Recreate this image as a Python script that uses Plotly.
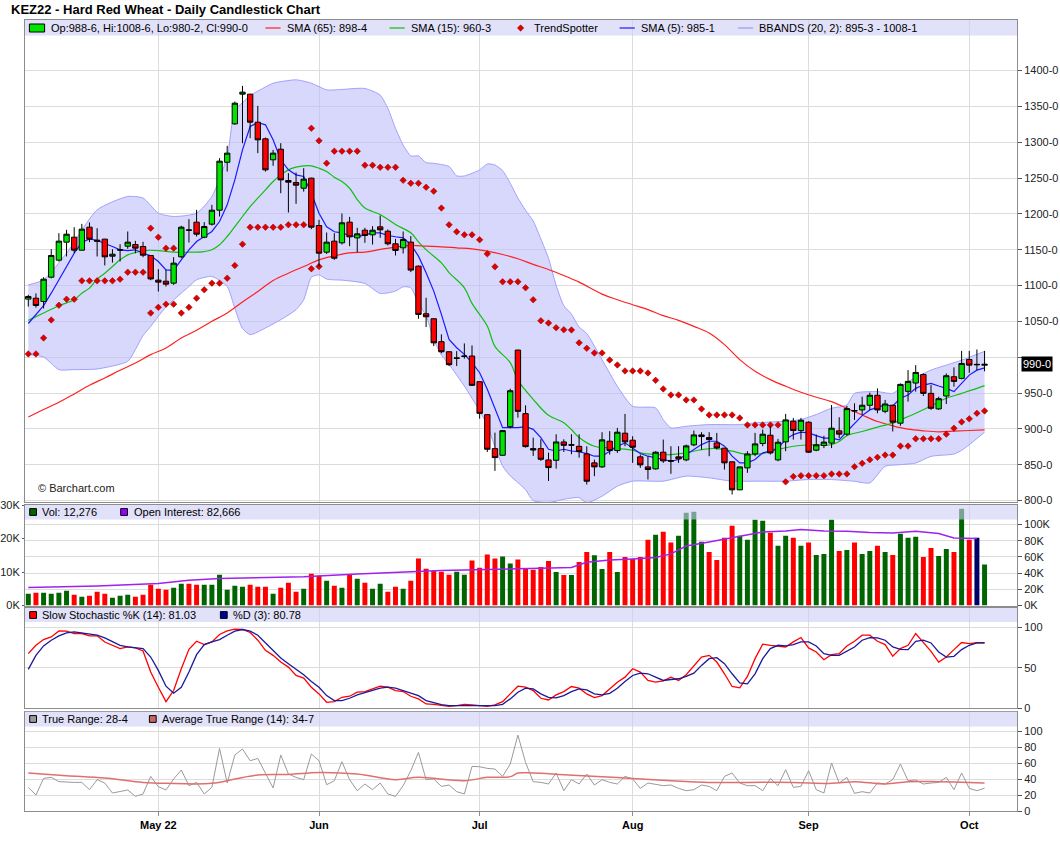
import plotly.graph_objects as go

# KEZ22 Hard Red Wheat, daily bars 6 Apr 2022 .. 5 Oct 2022 (index = trading day)
days = list(range(126))
month_idx = [17, 38, 59, 79, 102, 123]
month_lbl = ["May 22", "Jun", "Jul", "Aug", "Sep", "Oct"]

opens = [
    1081, 1082.3, 1077.7, 1111.6, 1135.4, 1160.5, 1167.4, 1149.3, 1181.4, 1163.3,
    1164.7, 1140.9, 1150, 1154.9, 1157.2, 1154.4, 1141.9, 1107.5, 1106, 1103.3,
    1140, 1177, 1188.4, 1167.4, 1185.6, 1205.1, 1272, 1325.6, 1367, 1367,
    1327.9, 1304.7, 1275.4, 1290.2, 1246.5, 1243.7, 1235.8, 1249.8, 1183.7, 1146.5,
    1161.9, 1159.6, 1188.4, 1166.5, 1177.2, 1170.7, 1181.9, 1175.8, 1158.2, 1152.6,
    1160.5, 1127, 1060.6, 1053.6, 1021.6, 1007.6, 999, 1001.6, 1001.6, 965.8,
    919.8, 872.4, 863.1, 903, 1009.9, 921.2, 872.4, 872.4, 856.6, 856.1,
    881.7, 877.8, 875.6, 865, 852.5, 846.9, 882.7, 869.7, 893.9, 884.1,
    860.9, 846.9, 844.1, 867.4, 855.5, 860.9, 856.7, 877.6, 889.2, 887.8,
    880.4, 873, 854, 814.9, 845.5, 865, 879.5, 891.1, 856.7, 881.8,
    910.6, 897.6, 909.2, 870.2, 876.8, 880.1, 897.2, 892.6, 925.5, 926.4,
    932.9, 946.8, 924.5, 932.9, 907.9, 952.3, 963.9, 975.9, 949.5, 927.8,
    945.8, 972.7, 970.4, 996.8, 990, 988.75,
]
highs = [
    1087, 1089, 1111.6, 1150.7, 1173, 1177.7, 1181.4, 1186, 1188, 1180,
    1165, 1150.7, 1157.7, 1175.4, 1162.3, 1161, 1142, 1122.8, 1121.9, 1139.5,
    1183.3, 1192.6, 1205.6, 1188.4, 1212.6, 1277.7, 1294.9, 1356.7, 1378.6, 1367.5,
    1350.7, 1306.5, 1289.3, 1298.6, 1256.7, 1257.7, 1263.7, 1250.5, 1191.6, 1174,
    1173, 1200.5, 1195.8, 1180.5, 1180.5, 1182.8, 1197.7, 1178.2, 1165.1, 1175.4,
    1168.9, 1128, 1082.9, 1054, 1031.8, 1008, 1008.5, 1019.2, 1016.4, 966.2,
    920.2, 894.7, 898.4, 956, 1010.3, 932.8, 887.7, 885.4, 866.8, 892.4,
    885.4, 892.4, 892.4, 875.7, 857.1, 895.3, 896.7, 901.3, 920.8, 889.7,
    864.1, 861.8, 868.8, 885, 875.7, 875.7, 878, 897.6, 895.3, 895.3,
    894.3, 873.4, 854.4, 847, 868.8, 894.3, 899, 903.6, 886, 920.8,
    915.2, 915.2, 910.6, 892, 890.3, 933.3, 916.2, 932, 935.6, 944.9,
    950.5, 956.5, 940.3, 933.8, 963.4, 982, 988.9, 977.3, 961.1, 944.9,
    977.3, 985.7, 1008.8, 1008.8, 1010.7, 1008.75,
]
lows = [
    1070.6, 1069, 1068, 1110, 1133.5, 1140.5, 1145, 1148.9, 1160.5, 1140.5,
    1128, 1132, 1133.5, 1151.2, 1145, 1139.5, 1107.3, 1091.6, 1098.6, 1101,
    1138.1, 1160, 1168.4, 1166, 1183.7, 1196.3, 1259, 1324.2, 1298.6, 1305.6,
    1284.7, 1259, 1267, 1228.8, 1201.9, 1214, 1231, 1178.6, 1126.5, 1144,
    1135.8, 1157.2, 1154.9, 1146.6, 1159.6, 1157.2, 1166.5, 1155.9, 1141.9, 1144.7,
    1118.7, 1053.6, 1042, 1015.5, 1005.3, 987.6, 987.6, 997.9, 959.7, 914.2,
    867.7, 841.3, 862.2, 900.7, 915.6, 873.8, 862.2, 855.2, 827.3, 844.5,
    867.7, 864.5, 859.8, 822.3, 833.9, 845.5, 864.1, 866.4, 875.7, 852.5,
    845.5, 829.3, 843.2, 852.5, 837.2, 852.5, 854.8, 875.7, 871.1, 861.8,
    871.1, 843.2, 808.4, 814.4, 838.6, 861.8, 875.7, 864.1, 854.8, 868.8,
    885, 885, 866.4, 868.8, 873.1, 873.1, 887, 890.3, 912.5, 919.4,
    926.4, 921.8, 921.8, 896.3, 904.2, 938, 951.9, 945.8, 926.4, 926.4,
    934.7, 958.8, 969, 978.2, 982, 980.25,
]
closes = [
    1084.7, 1072.1, 1108.8, 1141.9, 1161.9, 1171.6, 1149.3, 1178.6, 1164.7, 1161.9,
    1140, 1143.7, 1149.5, 1160.5, 1152.1, 1142.3, 1109.2, 1104.7, 1101.9, 1131.2,
    1181.4, 1177.5, 1171.6, 1182.3, 1205.1, 1273.5, 1284.7, 1354.4, 1369.8, 1327.9,
    1303.3, 1261.4, 1284.7, 1247.4, 1244.2, 1240, 1248.4, 1181.4, 1145.1, 1160.5,
    1138.1, 1187.5, 1167.9, 1172.1, 1169.8, 1177.2, 1177.7, 1158.2, 1148.9, 1164.2,
    1121.5, 1059.7, 1056.4, 1020, 1007.6, 989.5, 998.5, 1001.2, 960.7, 921.6,
    871.5, 859.8, 897.5, 953.2, 924.4, 875.2, 870.5, 857.5, 845.9, 881.7,
    877, 877.3, 868.2, 826.9, 846.9, 884.6, 869.7, 895.3, 881.8, 874.3,
    849.7, 843.2, 867.4, 855.3, 855, 858.1, 876.2, 891.5, 891.5, 885,
    873.4, 852.5, 814.9, 846.9, 865, 879, 892.5, 866.4, 881.3, 912.5,
    897.6, 912, 867.4, 877.7, 881.5, 900.9, 892.6, 928.2, 925, 932.9,
    946.8, 926.4, 934.7, 909.3, 962, 966.2, 978.7, 949.5, 928.7, 942.1,
    974.1, 966.2, 991.2, 988.9, 989.5, 990,
]

sma5 = [
    1047, 1060, 1072, 1089.3, 1108, 1126.5, 1145, 1160, 1165, 1162.8,
    1159, 1154.4, 1149.8, 1148.8, 1149.8, 1145, 1141.4, 1133.5, 1121.9, 1121,
    1135.8, 1149.8, 1161.4, 1168.4, 1175.4, 1189.3, 1212.6, 1247.4, 1289.3, 1321.9,
    1327.4, 1324.2, 1303.3, 1275.4, 1261.4, 1254.4, 1252.1, 1228.8, 1200.9, 1182,
    1175, 1173.5, 1169.8, 1168, 1171.2, 1173.5, 1173.5, 1169.8, 1168, 1166.5,
    1157.2, 1141, 1117.7, 1092.2, 1059.7, 1024.8, 1013.2, 1003.9, 992.3, 978.3,
    955.1, 927.2, 901.7, 901.7, 901.7, 903, 899.3, 887.7, 871.5, 869.1,
    871.5, 869.1, 868, 865.5, 861.8, 861.8, 868.8, 875.7, 880.4, 873.4,
    865.5, 861.8, 859.5, 857.2, 854.8, 857.2, 864.1, 871.1, 878, 882.7,
    882.7, 875.7, 861.8, 852.5, 852.5, 857.2, 866.4, 868.8, 873.4, 885,
    892, 895.3, 894.3, 890.5, 887, 887, 884.7, 896.3, 907.9, 918.5,
    926.4, 930.1, 933.3, 931.9, 942.6, 947.2, 956.5, 961.1, 963.4, 959.7,
    956.5, 951.9, 963.4, 975, 981.9, 985.1,
]

sma15_idx = [0, 2, 4, 6, 7, 8, 9, 10, 11, 12,
             13, 14, 15, 17, 19, 21, 23, 24, 25, 26,
             27, 28, 29, 30, 31, 32, 33, 34, 35, 36,
             37, 38, 39, 40, 41, 42, 43, 44, 46, 48,
             50, 51, 52, 54, 55, 57, 58, 60, 61, 63,
             64, 66, 68, 70, 71, 72, 74, 76, 77, 79,
             80, 82, 84, 86, 88, 90, 92, 94, 96, 98,
             100, 102, 103, 105, 106, 107, 109, 111, 113, 114,
             116, 118, 120, 122, 124, 125]
sma15 = [1051.4, 1061.6, 1071.8, 1080, 1089.3, 1096.3, 1108.8, 1117.2, 1126.5, 1135.8,
         1142.8, 1146, 1148.8, 1148.8, 1146.5, 1146.5, 1147.4, 1149.8, 1156.8, 1168.4,
         1182.3, 1196.3, 1210.2, 1221.9, 1233.5, 1245.1, 1254.4, 1261.4, 1265.1, 1267,
         1267, 1263.7, 1259.1, 1251.2, 1245, 1235.7, 1220, 1208, 1199, 1185.1,
         1173.5, 1161, 1150, 1131.7, 1118, 1096.8, 1075, 1043.4, 1015, 992.3,
         968, 941.2, 918.9, 908.6, 899, 888, 875.7, 873.4, 872.5, 870.2,
         866.4, 864.1, 864.1, 866.4, 871.1, 872.5, 868.8, 864.1, 865.5, 871.1,
         875.7, 877.5, 877.8, 877.8, 882.4, 890.3, 896.3, 902.3, 907.9, 912.5,
         921.8, 931.9, 942.6, 949.5, 956.5, 960.3]

sma65_idx = [0, 2, 4, 6, 8, 10, 12, 14, 16, 18,
             20, 22, 24, 26, 28, 30, 32, 34, 36, 38,
             40, 42, 44, 46, 48, 50, 52, 54, 56, 58,
             60, 62, 64, 66, 68, 70, 72, 75, 77, 79,
             81, 83, 85, 87, 89, 91, 93, 95, 97, 99,
             101, 103, 105, 107, 109, 111, 113, 115, 117, 119,
             121, 123, 125]
sma65 = [916.6, 926.9, 937.1, 948.7, 960.8, 971, 981.7, 991.9, 1003.5, 1012.8,
         1026.8, 1037.5, 1050, 1061.6, 1077, 1091.6, 1107, 1117.2, 1126.5, 1135.8,
         1141.2, 1145.6, 1146.6, 1150.3, 1153.5, 1155.9, 1154.9, 1154, 1152.6, 1151.2,
         1148, 1143.3, 1137.3, 1129.4, 1122.4, 1114, 1104.7, 1088, 1080.2, 1073.2,
         1066.3, 1057.9, 1051.4, 1043, 1033.7, 1017.5, 996.6, 980.3, 968.7, 959.4,
         951, 944, 938, 928.7, 919.4, 910.2, 904.2, 899.5, 897.2, 895.8,
         896.8, 897.7, 898.5]

bbu_idx = [0, 2, 5, 9, 13, 15, 17, 19, 22, 24,
           26, 27, 28, 29, 31, 32, 35, 37, 39, 41,
           44, 46, 47, 48, 49, 50, 51, 52, 53, 55,
           56, 57, 59, 60, 61, 62, 63, 64, 65, 66,
           67, 68, 69, 70, 71, 72, 73, 75, 77, 79,
           82, 83, 84, 86, 89, 93, 95, 99, 101, 103,
           105, 107, 108, 111, 113, 115, 118, 120, 122, 125]
bbu = [1100.9, 1107.9, 1145, 1205.6, 1224.2, 1222, 1200.9, 1196.3, 1200.9, 1224.2,
       1280, 1345, 1355, 1365, 1377, 1382.3, 1387, 1382.3, 1373, 1373.6,
       1375, 1365.7, 1347.1, 1319.3, 1296, 1280.8, 1280.8, 1271.5, 1270.5, 1266,
       1253, 1252.9, 1261.3, 1269.6, 1268.2, 1260.3, 1242.7, 1222, 1205, 1190,
       1165, 1138, 1100, 1072, 1060, 1042, 1033, 996.6, 959.4, 931.5,
       929.2, 912.9, 901.3, 903.6, 905.9, 905.9, 908.3, 910.6, 913, 920,
       928.7, 933.3, 949.5, 951.9, 949.5, 965.7, 982, 988.9, 995.8, 1008.1]

bbl_idx = [0, 2, 4, 6, 9, 13, 14, 15, 16, 17,
           18, 19, 21, 22, 24, 26, 27, 28, 29, 31,
           33, 35, 36, 37, 38, 39, 40, 41, 44, 46,
           48, 49, 50, 51, 52, 53, 54, 55, 57, 59,
           60, 61, 62, 63, 64, 65, 66, 68, 70, 72,
           73, 75, 77, 79, 83, 86, 89, 92, 95, 99,
           102, 105, 108, 110, 112, 114, 116, 118, 121, 122,
           123, 125]
bbl = [1003.5, 1000.3, 982.6, 982.6, 983.5, 994.2, 1010.5, 1030, 1043, 1057,
       1070, 1080, 1098.6, 1108, 1112.6, 1098.6, 1068, 1040, 1031.4, 1040.7,
       1052.3, 1066.3, 1080, 1111.6, 1114.9, 1109, 1107.9, 1107.5, 1102.9, 1088.9,
       1092.2, 1098.2, 1096.8, 1075, 1058, 1024.8, 1003, 990, 959.7, 925,
       905, 875, 848.2, 834.3, 825, 815, 800, 797, 801.7, 804,
       796.7, 806, 820, 827, 827, 834, 831.6, 827, 827, 827,
       829.3, 829.2, 826.8, 824.5, 847.7, 850, 852.3, 861.6, 864.8, 870,
       877.8, 895.3]

ts_idx = [0, 1, 2, 3, 4, 5, 6, 7, 8, 9, 10, 11, 12, 13, 14, 15,
          16, 17, 18, 19,
          16, 17, 18, 19, 20, 21, 22, 23, 24, 25, 26, 27, 28, 29, 30, 31, 32, 33, 34, 35, 36,
          37, 38,
          37, 38, 39, 40, 41, 42, 43, 44, 45, 46, 47, 48, 49, 50, 51, 52, 53, 54, 55, 56, 57, 58, 59,
          60, 61, 62, 63, 64, 65, 66, 67, 68, 69, 70, 71, 72, 73, 74, 75, 76, 77, 78, 79,
          80, 81, 82, 83, 84, 85, 86, 87, 88, 89, 90, 91, 92, 93, 94, 95, 96, 97, 98,
          99, 100, 101, 102, 103, 104, 105, 106, 107, 108, 109, 110, 111, 112, 113, 114,
          115, 116, 117, 118, 119, 120, 121, 122, 123, 124, 125]
ts_val = [1004.5, 1004.5, 1026.8, 1051.9, 1072.5, 1080.9, 1080.9, 1106.5, 1106.5, 1106.5,
          1106.5, 1106.5, 1108.8, 1118.6, 1118.6, 1118.6,
          1180, 1167.4, 1152.1, 1152.1,
          1061.5, 1069.5, 1074, 1074, 1061.5, 1069.5, 1082.3, 1094, 1103.3, 1103.3, 1110.2,
          1127.9, 1157.7, 1181.4, 1181.4, 1181.4, 1181.4, 1181.4, 1184.7, 1184.7, 1184.7,
          1123.3, 1126.5,
          1319.5, 1302, 1270.7, 1287.5, 1287.5, 1287.5, 1287.5, 1267.8, 1267.8, 1265,
          1265, 1265, 1246.9, 1242.7, 1242.7, 1237.1, 1231.6, 1208, 1184.7, 1174.9,
          1170.7, 1170.7, 1163.8,
          1144.2, 1126.1, 1105.2, 1105.2, 1105.2, 1096.8, 1080.1, 1050.8, 1047.6, 1041.1,
          1038.3, 1038, 1020, 1012.4, 1005.9, 1005.9, 996.1, 989.1, 980.8, 980.8,
          980.8, 978, 967.7, 955.7, 947.3, 947.3, 940.3, 940.3, 927.8, 919.4,
          919.4, 919.4, 919.4, 915.2, 905.5, 905.5, 905.5, 905.5, 905.5,
          826, 833.4, 834.7, 834.7, 834.7, 834.7, 837, 837, 837, 847.2,
          851.8, 856.9, 860.2, 863.4, 863.4, 875.9,
          875.9, 886.1, 886.1, 886.1, 886.1, 892.6, 900.9, 909.7, 913.9, 921.8, 925]

# volume in thousands; g = up, r = down, n = unchanged
vol = [
    3.5, 3.8, 3.8, 3.5, 3.8, 4.4, 3.2, 2.6, 2.9, 4.1,
    3.5, 2.3, 2.9, 3.2, 2.6, 3.2, 6.2, 5.0, 4.7, 5.3,
    6.5, 6.5, 6.2, 6.2, 6.2, 9.2, 4.7, 5.9, 5.6, 6.2,
    5.6, 5.6, 3.5, 5.3, 6.8, 4.1, 5.0, 9.5, 8.9, 7.4,
    5.9, 5.3, 9.2, 8.0, 6.8, 5.0, 6.5, 4.1, 5.6, 5.0,
    7.4, 14.0, 11.0, 10.4, 10.1, 9.2, 10.1, 9.2, 13.4, 11.3,
    15.2, 14.0, 14.6, 12.5, 13.7, 11.0, 10.7, 11.5, 13.3, 10.0,
    9.1, 9.1, 13.0, 16.0, 15.0, 10.9, 16.0, 10.0, 14.5, 13.9,
    14.5, 19.6, 21.1, 22.0, 18.8, 20.8, 27.7, 28.0, 19.0, 16.0,
    13.6, 20.2, 23.8, 20.8, 19.6, 25.6, 25.3, 21.7, 17.8, 20.8,
    20.2, 17.8, 18.8, 15.1, 15.4, 25.6, 16.3, 16.6, 18.8, 15.4,
    16.3, 17.8, 16.0, 15.1, 21.4, 20.2, 20.5, 14.5, 17.2, 14.8,
    16.9, 16.0, 28.9, 19.6, 20.2, 12.276,
]
vol_dir = (
    "grggggrgrr" "rgggrrrrrg" "grrggggggr" "rrgrrrgrrg" "rgrgrggrrg" "rrrrrrggrr"
    "rrggrrrrrg" "rgrrggrgrr" "rrgrrggggr" "rrrggggrgg" "rgrgggrgrg" "grgrgggrrg"
    "grgrng"
)

oi_idx = [0, 9, 17, 21, 25, 36, 43, 49, 54, 60, 65, 71, 73, 76, 79, 82, 84, 86, 89, 92,
          96, 99, 101, 104, 107, 110, 113, 116, 119, 121, 123, 124]
oi = [22.1, 24.2, 27, 31.3, 33.3, 35.4, 38.8, 41.7, 43.3, 44.5, 45.8, 47, 53.3, 56.2, 57.5,
      59.2, 63.7, 73.3, 78.3, 83.3, 90.8, 92, 93.8, 92, 91.7, 90, 89.6, 91.7, 88.8, 83.3,
      82.5, 82.666]

stoch_k = [
    67.5, 77.9, 85, 88.3, 95.8, 95.4, 92.5, 92.5, 89.6, 89.6,
    82, 77.9, 73.8, 75.8, 74.6, 70.8, 44.6, 25.8, 7.9, 21.7,
    48.8, 72.9, 82.9, 78.8, 82, 91.3, 95.8, 97.9, 97.5, 93.8,
    84.2, 71.7, 65.4, 57.1, 50.8, 40.4, 37.1, 25.8, 17.5, 7.1,
    7.9, 13.3, 14.6, 19.6, 20.4, 23.8, 27.1, 25.8, 21.7, 20.4,
    14.6, 11.3, 5, 4.6, 3.8, 2.1, 2.9, 4.6, 3.8, 2.9,
    2.1, 3.8, 7.9, 17.5, 27.1, 25.8, 21.7, 12.1, 10, 16.3,
    20.4, 26.7, 24.6, 17.5, 12.9, 15.4, 23.8, 32.1, 38.3, 48.8,
    44.6, 34.2, 32.1, 33.8, 38.3, 34.2, 41.3, 52.9, 63.3, 65.4,
    57.1, 42.5, 26.7, 25, 39.2, 61.3, 79.2, 77.9, 77.1, 75.8,
    82.1, 87.5, 74.6, 69.6, 60, 66.3, 67.5, 77.1, 82.9, 90.4,
    90.4, 82.9, 78.8, 64.2, 73.8, 77.9, 92.5, 82.1, 70.4, 57.1,
    63.3, 72.5, 81.3, 80, 81.3, 81.03,
]
stoch_d = [
    47.9, 65.4, 77.1, 84.2, 89.6, 93.3, 94.6, 93.3, 91.3, 90.4,
    87.1, 82.9, 77.9, 75.8, 74.6, 73.8, 63.3, 46.7, 27.1, 18.3,
    25.8, 44.6, 66.3, 78.8, 82, 85, 90.4, 95.4, 97.5, 95.4,
    90.4, 81.3, 71.7, 62.1, 55, 47.9, 41.3, 32.9, 25.8, 15.4,
    9.2, 9.2, 12.1, 16.3, 18.8, 21.7, 24.6, 25.8, 24.6, 21.7,
    18.8, 15.4, 9.2, 6.3, 4.2, 2.9, 2.9, 3.8, 3.8, 3.8,
    2.9, 2.9, 4.6, 11.3, 19.6, 24.6, 23.8, 17.5, 13.3, 12.5,
    15.4, 20.4, 23.8, 22.5, 17.5, 16.3, 18.3, 24.6, 32.9, 40.4,
    43.3, 42.5, 38.3, 34.2, 35.4, 36.3, 39.2, 43.3, 52.9, 61.3,
    62.5, 55, 42.5, 31.3, 30, 42.5, 61.3, 73.8, 77.9, 77.1,
    78.8, 82.1, 82.1, 77.1, 67.5, 65.4, 65.4, 70.4, 75.8, 84.2,
    87.5, 87.1, 84.2, 75.8, 72.9, 72.5, 82.9, 84.2, 80.8, 69.6,
    63.3, 64.2, 72.5, 77.9, 80.8, 80.78,
]

true_range = [
    29.6, 20, 40.8, 42.1, 36.7, 35.8, 35.8, 35.8, 26.7, 39.2,
    35, 22.5, 24.2, 26.3, 18.3, 21.3, 43.3, 30.4, 26.3, 40,
    51.3, 31.7, 35.8, 21.3, 29.6, 78.3, 35, 70, 77.5, 62.9,
    65.8, 46.3, 28.8, 70, 46.3, 42.1, 39.2, 71.3, 62.9, 32.9,
    37.9, 61.7, 39.2, 25.4, 33.8, 26.7, 35, 21.3, 18.3, 31.7,
    50.4, 73.3, 39.2, 40, 30.8, 32.5, 24.2, 21.3, 55.8, 55.4,
    53.3, 52.5, 43.3, 58.8, 95, 60.8, 36.7, 35.8, 33.8, 47.5,
    25.4, 39.2, 33.8, 46.3, 32.5, 39.2, 35.8, 33.8, 43.3, 40,
    28.3, 35, 32.9, 31.7, 32.5, 28.3, 25.4, 26.7, 32.5, 30.8,
    25.4, 43.3, 47.5, 35, 31.7, 31.7, 25.4, 40.8, 31.7, 51.7,
    29.6, 30.8, 50.4, 26.7, 22.5, 60, 35, 42.1, 22.1, 24.2,
    22.5, 35, 33.8, 39.2, 58.8, 37.9, 38.8, 33.8, 35, 35.8,
    42.1, 26.7, 47.5, 28.3, 25.4, 28.5,
]
atr_idx = [0, 5, 10, 15, 18, 24, 27, 30, 34, 38, 43, 48, 51, 57, 60, 63,
           64, 66, 70, 75, 79, 84, 89, 94, 100, 105, 108, 112, 115, 119, 123, 125]
atr = [47.5, 44.2, 41.3, 35.8, 34.6, 34.6, 40, 45, 45.8, 48.3, 46.3, 39.2, 42.1, 37.9, 42.1, 43,
       47.5, 47.5, 45.4, 42.9, 40.8, 37.9, 35.8, 35.8, 35.8, 34.6, 36.7, 33.8, 36.7, 36.7, 35.8, 34.9]

price_ticks = [800, 850, 900, 950, 1000, 1050, 1100, 1150, 1200, 1250, 1300, 1350, 1400]
vol_ticks = [0, 10, 20, 30]
oi_ticks = [0, 20, 40, 60, 80, 100]
stoch_ticks = [0, 50, 100]
tr_ticks = [0, 20, 40, 60, 80, 100]

# ---- page geometry (pixels of the 1060x851 page) ----
L, R, T, B = 25, 1017, 20, 811
W, H = R - L, B - T


def fx(px):
    return (px - L) / W


def fy(py):
    return (B - py) / H


FONT = "Liberation Sans, Arial, sans-serif"
GRID = "#dcdcdc"
FRAME = "#8c8c8c"
PRICE_RANGE = [797.9, 1470.5]
col_map = {"g": "#006400", "r": "#ff0000", "n": "#000066"}

fig = go.Figure()

# Bollinger bands
fig.add_trace(go.Scatter(x=bbl_idx, y=bbl, mode="lines", hoverinfo="skip",
                         line=dict(color="#a0a0ff", width=1, shape="spline", smoothing=0.6)))
fig.add_trace(go.Scatter(x=bbu_idx, y=bbu, mode="lines", hoverinfo="skip", fill="tonexty",
                         fillcolor="rgba(190,190,250,0.6)",
                         line=dict(color="#a0a0ff", width=1, shape="spline", smoothing=0.6)))
# moving averages
fig.add_trace(go.Scatter(x=sma65_idx, y=sma65, mode="lines",
                         line=dict(color="#ff2020", width=1.2, shape="spline")))
fig.add_trace(go.Scatter(x=sma15_idx, y=sma15, mode="lines",
                         line=dict(color="#10c010", width=1.2, shape="spline")))
fig.add_trace(go.Scatter(x=days, y=sma5, mode="lines",
                         line=dict(color="#1a1aff", width=1.2)))
# trendspotter
fig.add_trace(go.Scatter(x=ts_idx, y=ts_val, mode="markers",
                         marker=dict(symbol="diamond", size=5, color="#e00000",
                                     line=dict(color="#800000", width=0.5))))
# candles sit on an overlaid price axis so they are drawn above the band fill
fig.add_trace(go.Candlestick(
    x=days, open=opens, high=highs, low=lows, close=closes, whiskerwidth=0,
    xaxis="x", yaxis="y6",
    increasing=dict(fillcolor="#00e400", line=dict(color="black", width=1)),
    decreasing=dict(fillcolor="#ff0000", line=dict(color="black", width=1)),
))

# volume + open interest
fig.add_trace(go.Bar(x=days, y=vol, xaxis="x2", yaxis="y2",
                     marker=dict(color=[col_map[c] for c in vol_dir], line=dict(width=0))))
fig.add_trace(go.Scatter(x=oi_idx, y=oi, xaxis="x2", yaxis="y5", mode="lines",
                         line=dict(color="#a020f0", width=1.5)))

# stochastics
fig.add_trace(go.Scatter(x=days, y=stoch_k, xaxis="x3", yaxis="y3", mode="lines",
                         line=dict(color="#ff0000", width=1.3)))
fig.add_trace(go.Scatter(x=days, y=stoch_d, xaxis="x3", yaxis="y3", mode="lines",
                         line=dict(color="#1a1a9a", width=1.3)))

# true range
fig.add_trace(go.Scatter(x=days, y=true_range, xaxis="x4", yaxis="y4", mode="lines",
                         line=dict(color="#9a9a9a", width=1)))
fig.add_trace(go.Scatter(x=atr_idx, y=atr, xaxis="x4", yaxis="y4", mode="lines",
                         line=dict(color="#e07070", width=1.5, shape="spline")))

xbase = dict(range=[-0.43, 129.24], tickmode="array", tickvals=month_idx, showgrid=True,
             gridcolor=GRID, showline=True, mirror=True, linecolor=FRAME, zeroline=False,
             showticklabels=False, ticks="", fixedrange=True, automargin=False)
ybase = dict(showline=True, mirror=True, linecolor=FRAME, zeroline=False, gridcolor=GRID,
             ticks="outside", ticklen=4, tickcolor="#555", tickmode="array", fixedrange=True,
             automargin=False, tickfont=dict(size=11, color="#222"))

fig.update_layout(
    width=1060, height=851, autosize=False,
    margin=dict(l=L, r=1060 - R, t=T, b=851 - B, autoexpand=False),
    paper_bgcolor="white", plot_bgcolor="white",
    font=dict(family=FONT, size=11, color="#000"),
    showlegend=False, boxgap=0.3, boxgroupgap=0, bargap=0.35,
    xaxis=dict(xbase, anchor="y", domain=[0, 1], rangeslider=dict(visible=False)),
    xaxis2=dict(xbase, anchor="y2", domain=[0, 1]),
    xaxis3=dict(xbase, anchor="y3", domain=[0, 1]),
    xaxis4=dict(xbase, anchor="y4", domain=[0, 1], showticklabels=True,
                ticktext=["<b>%s</b>" % m for m in month_lbl], ticks="outside", ticklen=4,
                tickcolor=FRAME, tickfont=dict(size=11, color="#000")),
    yaxis=dict(ybase, anchor="x", side="right", domain=[fy(502), 1], range=PRICE_RANGE,
               tickvals=price_ticks,
               ticktext=["" if v == 1000 else "%d-0" % v for v in price_ticks]),
    yaxis6=dict(anchor="x", overlaying="y", range=PRICE_RANGE, visible=False, fixedrange=True),
    yaxis2=dict(ybase, anchor="x2", side="left", domain=[fy(605.5), fy(505)], range=[0, 30],
                tickvals=vol_ticks, ticktext=["%dK" % v for v in vol_ticks], showgrid=False,
                ticklen=2),
    yaxis5=dict(ybase, anchor="x2", overlaying="y2", side="right", range=[0, 124],
                tickvals=oi_ticks, ticktext=["%dK" % v for v in oi_ticks], showgrid=True,
                showline=False),
    yaxis3=dict(ybase, anchor="x3", side="right", domain=[fy(708), fy(608)], range=[0, 124.2],
                tickvals=stoch_ticks, ticktext=[str(v) for v in stoch_ticks]),
    yaxis4=dict(ybase, anchor="x4", side="right", domain=[0, fy(711.5)], range=[0, 124.5],
                tickvals=tr_ticks, ticktext=[str(v) for v in tr_ticks]),
)

shapes = []
annots = []

# lavender legend strips on top of every pane
for xr, yr, y0 in [("x", "y", 0.968), ("x2", "y2", 0.856), ("x3", "y3", 0.86), ("x4", "y4", 0.85)]:
    shapes.append(dict(type="rect", xref=xr + " domain", yref=yr + " domain", x0=0, x1=1,
                       y0=y0, y1=1, fillcolor="rgb(205,205,245)", opacity=0.6,
                       line=dict(width=0), layer="above"))


def text(px, py, s, size=11, color="#000", anchor="left"):
    annots.append(dict(xref="paper", yref="paper", x=fx(px), y=fy(py), text=s,
                       showarrow=False, xanchor=anchor, yanchor="middle",
                       font=dict(size=size, color=color, family=FONT)))


def box(x0, x1, py, color, h=3.4):
    shapes.append(dict(type="rect", xref="paper", yref="paper", x0=fx(x0), x1=fx(x1),
                       y0=fy(py + h), y1=fy(py - h), fillcolor=color,
                       line=dict(color="black", width=1)))


def dash(x0, x1, py, color):
    shapes.append(dict(type="line", xref="paper", yref="paper", x0=fx(x0), x1=fx(x1),
                       y0=fy(py), y1=fy(py), line=dict(color=color, width=1.2)))


# price legend
py = 28
box(29.4, 44.6, py, "#00e400", h=4)
text(48.5, py, "Op:988-6, Hi:1008-6, Lo:980-2, Cl:990-0")
dash(265.4, 280.6, py, "#ff2020")
text(284.7, py, "SMA (65): 898-4")
dash(389.5, 404.7, py, "#10c010")
text(408.7, py, "SMA (15): 960-3")
d = 3.2
shapes.append(dict(type="path", xref="paper", yref="paper", fillcolor="#e00000",
                   line=dict(color="#800000", width=0.5),
                   path="M %f,%f L %f,%f L %f,%f L %f,%f Z" % (
                       fx(520.6 - d), fy(py), fx(520.6), fy(py - d),
                       fx(520.6 + d), fy(py), fx(520.6), fy(py + d))))
text(532.4, py, "TrendSpotter")
dash(619.6, 634.8, py, "#1a1aff")
text(638.9, py, "SMA (5): 985-1")
dash(737.9, 753.1, py, "#9999ff")
text(757.2, py, "BBANDS (20, 2): 895-3 - 1008-1")

# volume legend
py = 512
box(29.7, 36.5, py, "#006400")
text(40.2, py, "Vol: 12,276")
box(120.7, 127.5, py, "#9900ff")
text(131.5, py, "Open Interest: 82,666")

# stochastic legend
py = 615
box(29.7, 36.5, py, "#ff0000")
text(40.2, py, "Slow Stochastic %K (14): 81.03")
box(220.4, 227.2, py, "#000099")
text(230.9, py, "%D (3): 80.78")

# true range legend
py = 719
box(29.7, 36.5, py, "#9a9a9a")
text(40.2, py, "True Range: 28-4")
box(149.4, 156.2, py, "#c86464")
text(160.3, py, "Average True Range (14): 34-7")

# title, copyright, last price flag
text(9, 9, "<b>KEZ22 - Hard Red Wheat - Daily Candlestick Chart</b>", size=13)
text(35.5, 488, "© Barchart.com", size=11, color="#222")
annots.append(dict(xref="paper", yref="y", x=1, y=closes[-1], text="990-0", showarrow=False,
                   xanchor="left", yanchor="middle", xshift=4, bgcolor="black", borderpad=1,
                   font=dict(size=11, color="white", family=FONT)))

fig.update_layout(shapes=shapes, annotations=annots)
# the page body margin would push the fixed-size figure out of the window
fig.write_html("out.html", config={"displayModeBar": False},
               post_script="document.body.style.margin='0';")
